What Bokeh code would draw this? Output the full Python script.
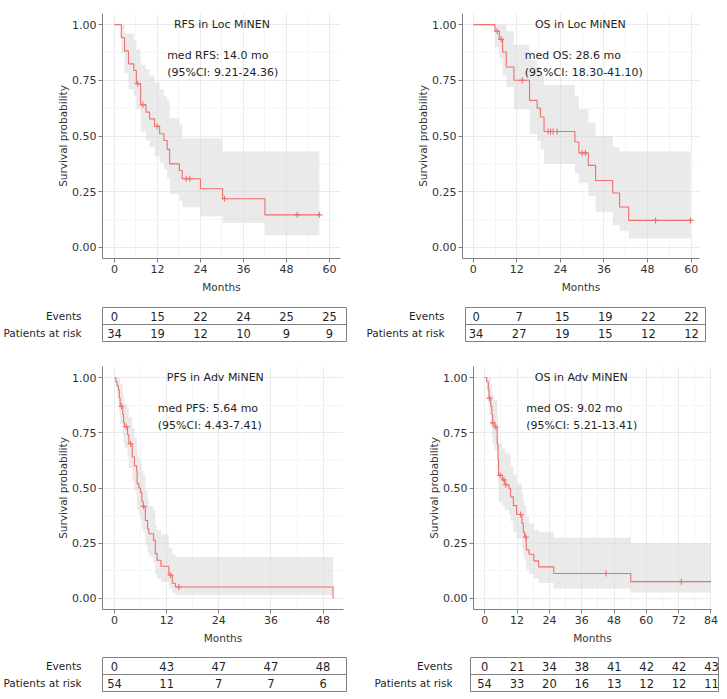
from bokeh.plotting import figure
from bokeh.layouts import column, row
from bokeh.models import Range1d, FixedTicker, Span, NumeralTickFormatter
from bokeh.core.properties import value
from bokeh.embed import file_html
from bokeh.resources import INLINE

FONT = "DejaVu Sans"
RED = "#EF6F6A"
TXT = "#1f1f1f"
AXC = "#808080"

# ---------------- Panel A: RFS in Loc MiNEN ----------------
a_time = [0, 1.9, 2.8, 3.9, 5.4, 6.1, 7.3, 8.8, 9.8, 11.2, 12.6, 13.8, 14.7, 15.4, 18.1, 18.9, 24.0, 30.2, 42.0]
a_surv = [1.0, 0.941, 0.882, 0.824, 0.794, 0.735, 0.64, 0.607, 0.577, 0.544, 0.51, 0.48, 0.44, 0.375, 0.345, 0.308, 0.263, 0.218, 0.146]
a_upper = [1.0, 1.0, 0.96, 0.96, 0.93, 0.89, 0.82, 0.80, 0.77, 0.74, 0.71, 0.68, 0.66, 0.58, 0.55, 0.49, 0.49, 0.43, 0.43]
a_lower = [1.0, 0.87, 0.78, 0.71, 0.68, 0.62, 0.52, 0.48, 0.45, 0.41, 0.38, 0.35, 0.31, 0.24, 0.21, 0.18, 0.14, 0.11, 0.054]
a_end = 57.2
a_cens_time = [6.5, 7.9, 11.9, 20.0, 21.0, 30.7, 51.0, 57.2]
a_cens_surv = [0.735, 0.64, 0.544, 0.308, 0.308, 0.218, 0.146, 0.146]
a_tab_time = [0, 12, 24, 36, 48, 60]
a_events = [0, 15, 22, 24, 25, 25]
a_risk = [34, 19, 12, 10, 9, 9]
a_title = "RFS in Loc MiNEN"
a_med = "med RFS: 14.0 mo"
a_ci = "(95%CI: 9.21-24.36)"

# ---------------- Panel B: OS in Loc MiNEN ----------------
b_time = [0, 6.0, 7.2, 8.1, 9.1, 11.2, 15.5, 17.6, 18.5, 19.5, 28.0, 29.1, 31.7, 33.7, 38.4, 40.3, 42.8]
b_surv = [1.0, 0.97, 0.934, 0.877, 0.81, 0.75, 0.66, 0.625, 0.585, 0.52, 0.473, 0.424, 0.368, 0.30, 0.244, 0.181, 0.121]
b_upper = [1.0, 1.0, 1.0, 1.0, 0.97, 0.91, 0.84, 0.81, 0.77, 0.73, 0.68, 0.62, 0.56, 0.50, 0.45, 0.43, 0.43]
b_lower = [1.0, 0.90, 0.85, 0.77, 0.72, 0.62, 0.51, 0.48, 0.44, 0.375, 0.33, 0.29, 0.23, 0.16, 0.10, 0.075, 0.04]
b_end = 59.8
b_cens_time = [6.6, 7.7, 13.5, 20.6, 21.3, 22.0, 23.1, 30.0, 30.9, 50.2, 59.8]
b_cens_surv = [0.97, 0.934, 0.75, 0.52, 0.52, 0.52, 0.52, 0.424, 0.424, 0.121, 0.121]
b_tab_time = [0, 12, 24, 36, 48, 60]
b_events = [0, 7, 15, 19, 22, 22]
b_risk = [34, 27, 19, 15, 12, 12]
b_title = "OS in Loc MiNEN"
b_med = "med OS: 28.6 mo"
b_ci = "(95%CI: 18.30-41.10)"

# ---------------- Panel C: PFS in Adv MiNEN ----------------
c_time = [0, 0.3, 0.6, 0.9, 1.1, 1.3, 1.9, 2.1, 2.3, 3.0, 3.3, 4.1, 4.6, 5.1, 5.2, 5.6, 6.0, 6.3, 6.6, 7.1, 7.6, 7.9, 9.0, 9.4, 9.8, 10.7, 12.5, 13.3, 14.0]
c_surv = [1.0, 0.981, 0.963, 0.944, 0.907, 0.87, 0.833, 0.796, 0.778, 0.741, 0.70, 0.64, 0.60, 0.577, 0.52, 0.50, 0.48, 0.44, 0.417, 0.353, 0.315, 0.293, 0.263, 0.203, 0.173, 0.146, 0.106, 0.069, 0.052]
c_upper = [1.0, 1.0, 1.0, 1.0, 1.0, 0.97, 0.93, 0.90, 0.88, 0.86, 0.82, 0.77, 0.73, 0.71, 0.65, 0.63, 0.61, 0.58, 0.56, 0.49, 0.45, 0.42, 0.40, 0.33, 0.31, 0.29, 0.23, 0.20, 0.188]
c_lower = [1.0, 0.95, 0.91, 0.88, 0.84, 0.79, 0.74, 0.70, 0.68, 0.64, 0.59, 0.53, 0.49, 0.46, 0.40, 0.38, 0.36, 0.32, 0.30, 0.24, 0.21, 0.19, 0.16, 0.11, 0.09, 0.075, 0.045, 0.025, 0.016]
c_end = 50.3
c_cens_time = [1.6, 2.7, 3.7, 6.7, 12.9, 14.8]
c_cens_surv = [0.87, 0.778, 0.70, 0.417, 0.106, 0.052]
c_tab_time = [0, 12, 24, 36, 48]
c_events = [0, 43, 47, 47, 48]
c_risk = [54, 11, 7, 7, 6]
c_title = "PFS in Adv MiNEN"
c_med = "med PFS: 5.64 mo"
c_ci = "(95%CI: 4.43-7.41)"

# ---------------- Panel D: OS in Adv MiNEN ----------------
d_time = [0, 0.7, 1.3, 1.6, 2.2, 2.6, 2.9, 3.5, 4.6, 4.9, 5.1, 6.5, 7.4, 9.0, 9.6, 10.6, 11.8, 13.8, 14.3, 14.8, 15.4, 16.4, 18.2, 20.0, 25.6, 54.2]
d_surv = [1.0, 0.981, 0.944, 0.907, 0.87, 0.833, 0.795, 0.776, 0.70, 0.63, 0.557, 0.537, 0.515, 0.497, 0.46, 0.42, 0.38, 0.34, 0.30, 0.278, 0.22, 0.20, 0.17, 0.143, 0.113, 0.076]
d_upper = [1.0, 1.0, 1.0, 1.0, 0.97, 0.94, 0.92, 0.90, 0.83, 0.76, 0.70, 0.68, 0.66, 0.65, 0.60, 0.56, 0.52, 0.48, 0.44, 0.42, 0.37, 0.34, 0.31, 0.30, 0.275, 0.25]
d_lower = [1.0, 0.94, 0.88, 0.83, 0.78, 0.74, 0.70, 0.67, 0.59, 0.52, 0.44, 0.42, 0.40, 0.38, 0.35, 0.30, 0.27, 0.23, 0.19, 0.17, 0.13, 0.11, 0.09, 0.07, 0.045, 0.027]
d_end = 84.0
d_cens_time = [1.7, 3.0, 4.1, 5.7, 7.1, 7.8, 13.3, 15.2, 45.0, 73.0]
d_cens_surv = [0.907, 0.795, 0.776, 0.557, 0.537, 0.515, 0.38, 0.278, 0.113, 0.076]
d_tab_time = [0, 12, 24, 36, 48, 60, 72, 84]
d_events = [0, 21, 34, 38, 41, 42, 42, 43]
d_risk = [54, 33, 20, 16, 13, 12, 12, 11]
d_title = "OS in Adv MiNEN"
d_med = "med OS: 9.02 mo"
d_ci = "(95%CI: 5.21-13.41)"


def km_plot(time, surv, upper, lower, end, ctime, csurv, title, med, ci,
            xr, xticks, w, h, bl, br, bt, bb, title_x, ann_x, drop_to_zero=False):
    p = figure(width=w, height=h, output_backend="svg", toolbar_location=None,
               x_range=Range1d(*xr), y_range=Range1d(-0.05, 1.05),
               min_border_left=bl, min_border_right=br, min_border_top=bt, min_border_bottom=bb)
    p.outline_line_color = None
    p.background_fill_color = "white"
    p.border_fill_color = "white"
    # confidence band
    bx = list(time) + [end]
    p.varea_step(x=bx, y1=list(lower) + [lower[-1]], y2=list(upper) + [upper[-1]],
                 step_mode="after", fill_color="#D9D9D9", fill_alpha=0.55)
    # survival curve
    sx = list(time) + [end]
    sy = list(surv) + [surv[-1]]
    if drop_to_zero:
        sx = sx + [end]
        sy = sy + [0.0]
    p.step(x=sx, y=sy, mode="after", line_color=RED, line_width=1.1)
    p.scatter(x=ctime, y=csurv, marker="cross", size=6, line_color=RED, line_width=1.1)
    # texts
    p.text(x=[title_x], y=[1.0], text=[title], text_font=value(FONT), text_font_size="11px",
           text_align="center", text_baseline="middle", text_color=TXT)
    p.text(x=[ann_x, ann_x], y=[0.862, 0.785], text=[med, ci], text_font=value(FONT),
           text_font_size="11px", text_align="left", text_baseline="middle", text_color=TXT)
    # axes
    p.xaxis.ticker = FixedTicker(ticks=xticks, minor_ticks=[t + 6 for t in xticks])
    p.yaxis.ticker = FixedTicker(ticks=[0, 0.25, 0.5, 0.75, 1.0], minor_ticks=[0.125, 0.375, 0.625, 0.875])
    p.yaxis.formatter = NumeralTickFormatter(format="0.00")
    p.xaxis.axis_label = "Months"
    p.yaxis.axis_label = "Survival probability"
    for ax in (p.xaxis[0], p.yaxis[0]):
        ax.axis_line_color = AXC
        ax.major_tick_line_color = AXC
        ax.major_tick_out = 4
        ax.major_tick_in = 0
        ax.minor_tick_out = 0
        ax.minor_tick_in = 0
        ax.major_label_text_font = FONT
        ax.major_label_text_font_size = "11px"
        ax.major_label_text_color = "#333333"
        ax.axis_label_text_font = FONT
        ax.axis_label_text_font_size = "10.5px"
        ax.axis_label_text_font_style = "normal"
        ax.axis_label_text_color = "#333333"
        ax.major_label_standoff = 2
    p.xaxis.axis_label_standoff = 5
    p.yaxis.axis_label_standoff = 0
    p.xgrid.grid_line_color = "#EBEBEB"
    p.ygrid.grid_line_color = "#EBEBEB"
    p.xgrid.minor_grid_line_color = "#F5F5F5"
    p.ygrid.minor_grid_line_color = "#F5F5F5"
    return p


def risk_table(ttime, events, risk, xr, w, h, bl, br, bt, bb, standoff):
    p = figure(width=w, height=h, output_backend="svg", toolbar_location=None,
               x_range=Range1d(*xr), y_range=Range1d(0, 2),
               min_border_left=bl, min_border_right=br, min_border_top=bt, min_border_bottom=bb)
    p.outline_line_color = AXC
    p.outline_line_width = 1
    p.xaxis.visible = False
    p.xgrid.visible = False
    p.ygrid.visible = False
    ax = p.yaxis[0]
    ax.ticker = FixedTicker(ticks=[0.5, 1.5])
    ax.major_label_overrides = {0.5: "Patients at risk", 1.5: "Events"}
    ax.axis_line_color = None
    ax.major_tick_line_color = None
    ax.minor_tick_line_color = None
    ax.major_tick_out = 0
    ax.major_tick_in = 0
    ax.major_label_standoff = standoff
    ax.major_label_text_font = FONT
    ax.major_label_text_font_size = "10.5px"
    ax.major_label_text_color = TXT
    p.add_layout(Span(location=1.0, dimension="width", line_color=AXC, line_width=1))
    p.text(x=ttime, y=[1.5] * len(ttime), text=[str(v) for v in events], text_font=value(FONT),
           text_font_size="11.5px", text_align="center", text_baseline="middle", text_color=TXT)
    p.text(x=ttime, y=[0.5] * len(ttime), text=[str(v) for v in risk], text_font=value(FONT),
           text_font_size="11.5px", text_align="center", text_baseline="middle", text_color=TXT)
    return p


pA = km_plot(a_time, a_surv, a_upper, a_lower, a_end, a_cens_time, a_cens_surv, a_title, a_med, a_ci,
             (-3.35, 63.1), [0, 12, 24, 36, 48, 60], 363, 300, 102, 23, 13, 42, 30.0, 14.7)
pB = km_plot(b_time, b_surv, b_upper, b_lower, b_end, b_cens_time, b_cens_surv, b_title, b_med, b_ci,
             (-2.95, 62.3), [0, 12, 24, 36, 48, 60], 363, 300, 99, 27, 13, 42, 29.5, 14.2)
pC = km_plot(c_time, c_surv, c_upper, c_lower, c_end, c_cens_time, c_cens_surv, c_title, c_med, c_ci,
             (-2.76, 52.7), [0, 12, 24, 36, 48], 363, 298, 102, 20, 14, 41, 23.2, 9.95, drop_to_zero=True)
pD = km_plot(d_time, d_surv, d_upper, d_lower, d_end, d_cens_time, d_cens_surv, d_title, d_med, d_ci,
             (-4.2, 84.2), [0, 12, 24, 36, 48, 60, 72, 84], 363, 298, 110, 15, 14, 41, 35.8, 15.4)

tA = risk_table(a_tab_time, a_events, a_risk, (-3.35, 64.75), 363, 52, 102, 17, 7, 11, 21)
tB = risk_table(b_tab_time, b_events, b_risk, (-2.95, 63.9), 363, 52, 99, 21, 7, 11, 21)
tC = risk_table(c_tab_time, c_events, c_risk, (-2.76, 53.4), 363, 48, 102, 17, 7, 7, 21)
tD = risk_table(d_tab_time, d_events, d_risk, (-5.2, 86.6), 363, 48, 107, 8, 7, 7, 18)

layout = column(row(pA, pB), row(tA, tB), row(pC, pD), row(tC, tD))
open("out.html", "w").write(file_html(layout, INLINE))
